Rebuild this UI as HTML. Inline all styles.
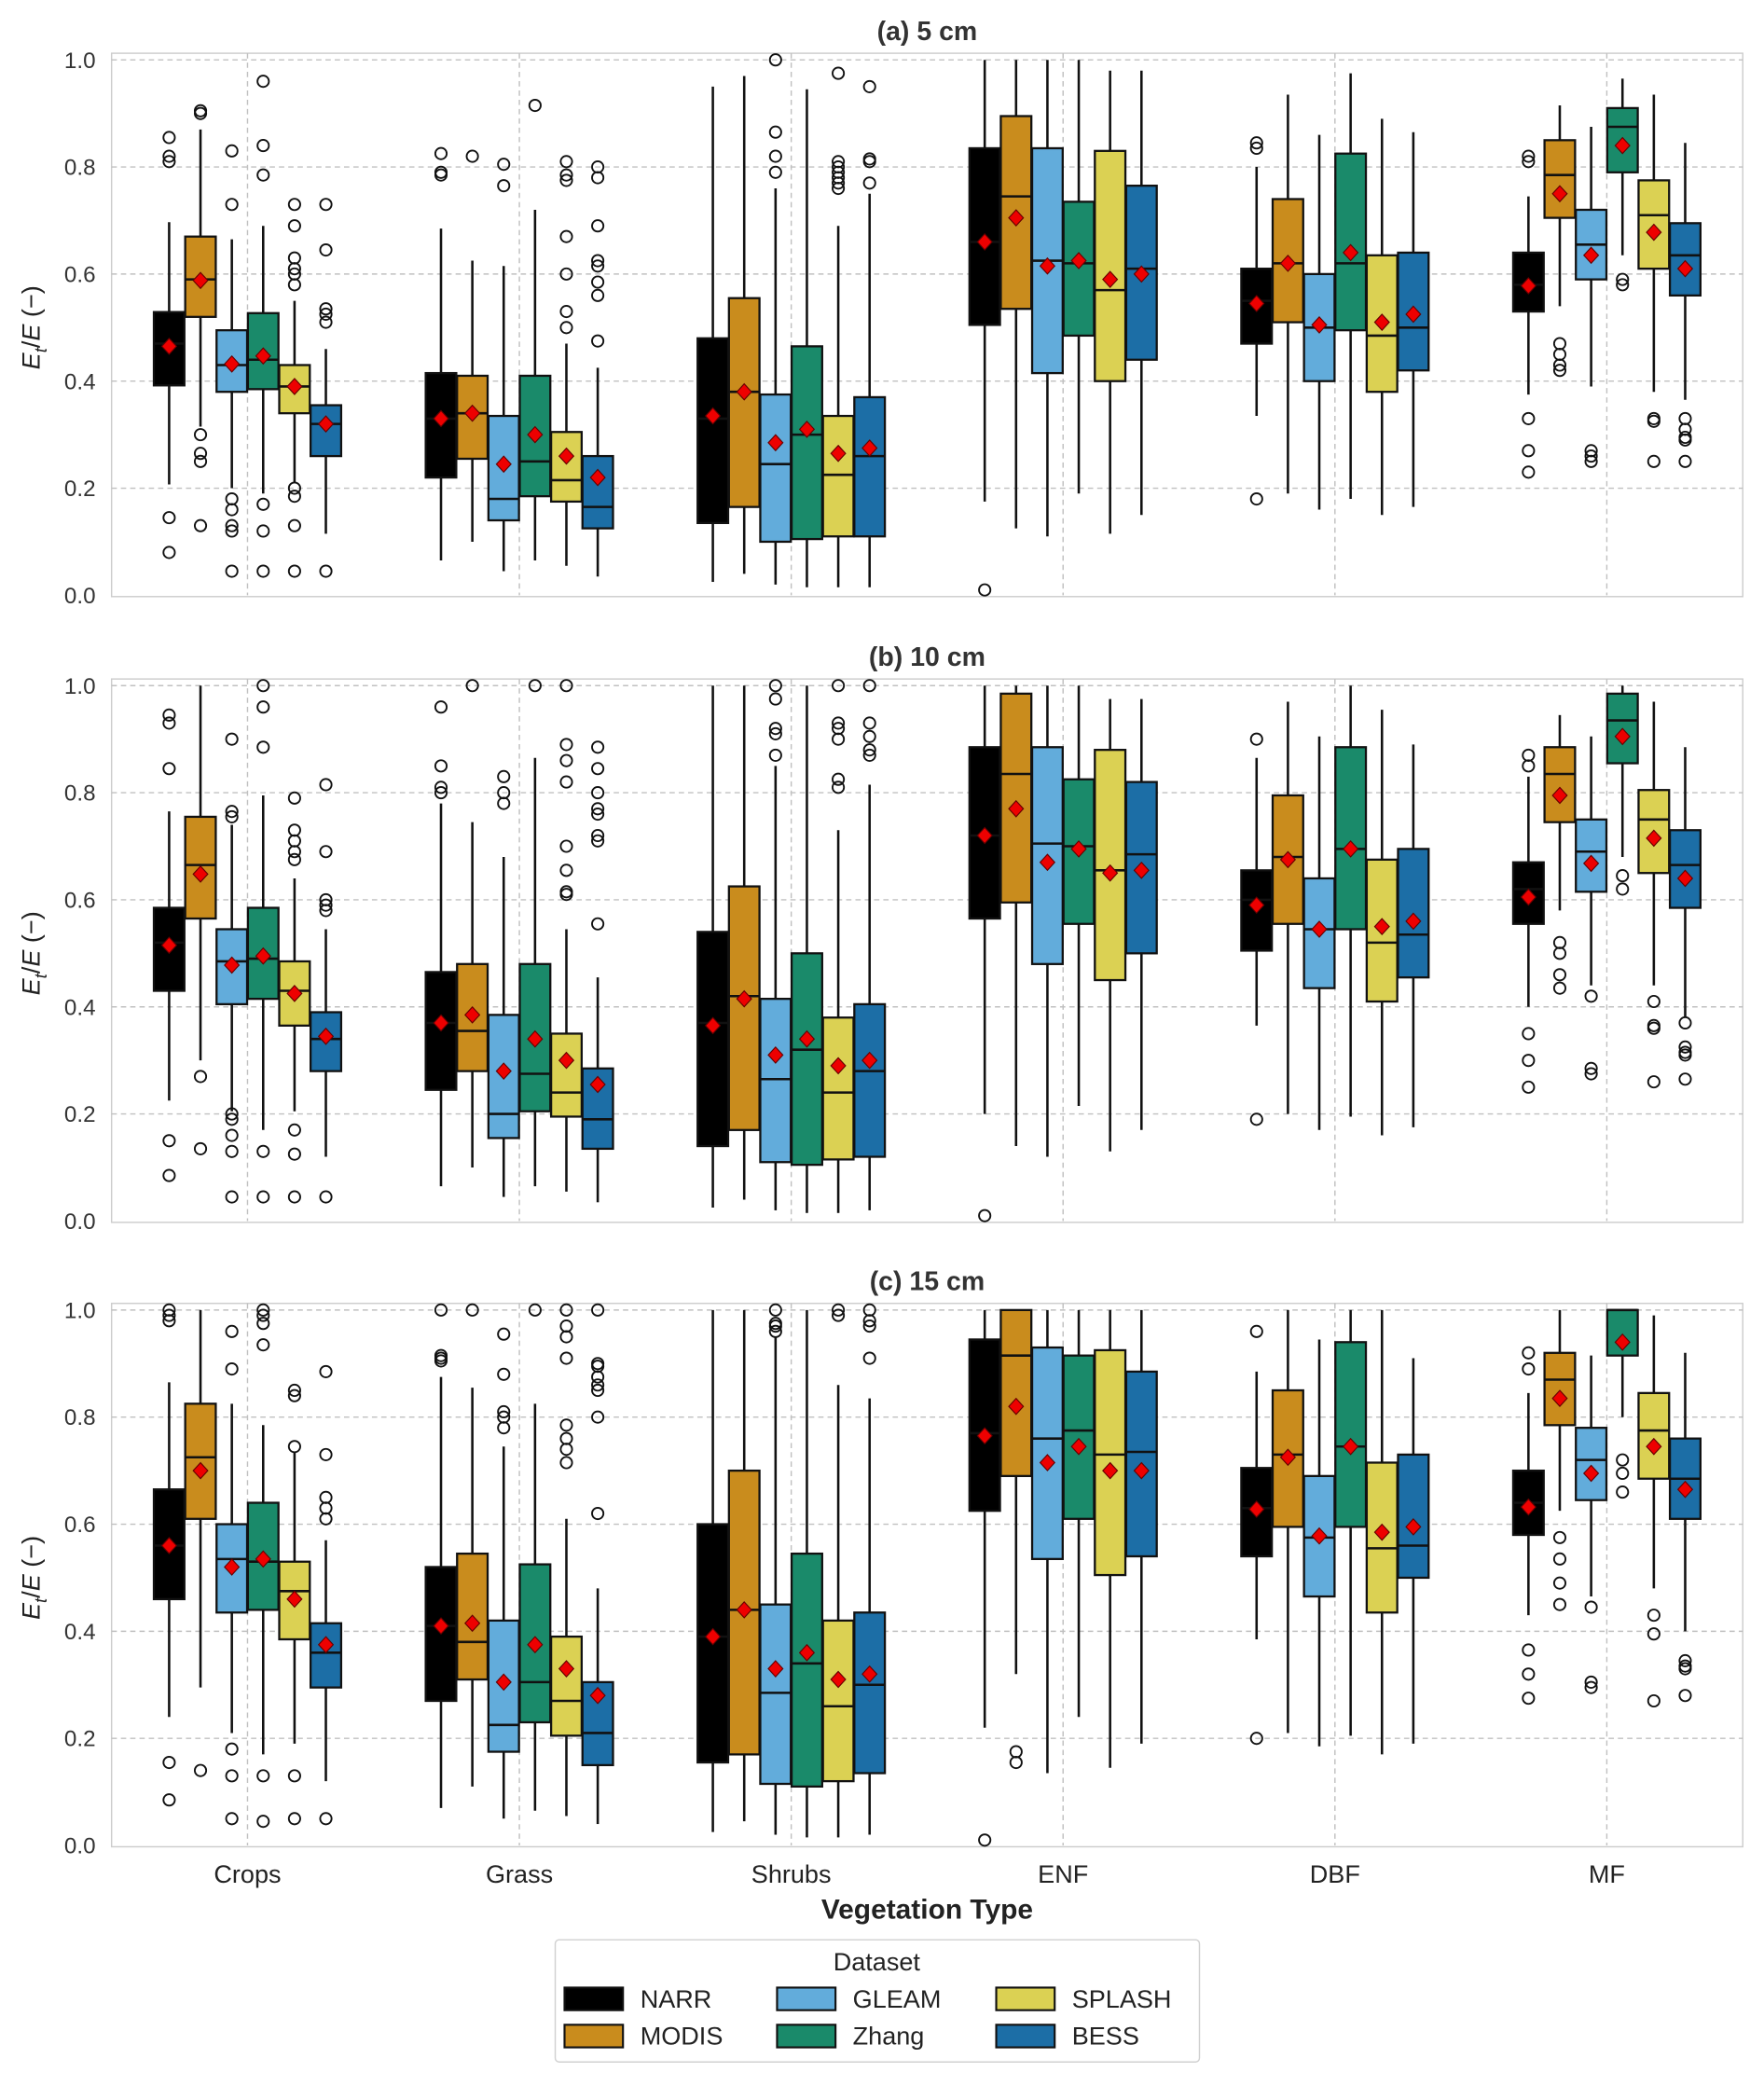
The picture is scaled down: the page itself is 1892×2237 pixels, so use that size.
<!DOCTYPE html>
<html><head><meta charset="utf-8"><style>
html,body{margin:0;padding:0;background:#fff;}
svg{display:block;font-family:"Liberation Sans",Arial,sans-serif;}
</style></head><body>
<svg id="chart" width="1892" height="2237" viewBox="0 0 1328 1570" xmlns="http://www.w3.org/2000/svg"></svg>
<script>
const categories = ["Crops","Grass","Shrubs","ENF","DBF","MF"];
const datasets = ["NARR","MODIS","GLEAM","Zhang","SPLASH","BESS"];
const panelTitles = ["(a) 5 cm","(b) 10 cm","(c) 15 cm"];
const yTicks = [0.0,0.2,0.4,0.6,0.8,1.0];
const yTickLabels = ["0.0","0.2","0.4","0.6","0.8","1.0"];
// each entry: [whiskerLow, q1, median, q3, whiskerHigh, mean, outliers]
const panelA = [
 [[.207,.392,.47,.529,.697,.465,[.855,.82,.81,.145,.08]],[.315,.52,.59,.67,.87,.588,[.905,.9,.3,.265,.25,.13]],[.2,.38,.43,.495,.665,.432,[.83,.73,.18,.16,.13,.12,.045]],[.19,.385,.44,.527,.69,.447,[.96,.84,.785,.17,.12,.045]],[.21,.34,.39,.43,.55,.39,[.73,.69,.63,.61,.6,.58,.2,.185,.13,.045]],[.115,.26,.32,.355,.46,.32,[.73,.645,.535,.525,.51,.045]]],
 [[.065,.22,.33,.415,.685,.33,[.825,.79,.785]],[.1,.255,.34,.41,.625,.34,[.82]],[.045,.14,.18,.335,.615,.245,[.805,.765]],[.065,.185,.25,.41,.72,.3,[.915]],[.055,.175,.215,.305,.47,.26,[.81,.785,.775,.67,.6,.53,.5]],[.035,.125,.165,.26,.425,.22,[.8,.78,.69,.625,.615,.585,.56,.475]]],
 [[.025,.135,.33,.48,.95,.335,[]],[.04,.165,.38,.555,.97,.38,[]],[.02,.1,.245,.375,.76,.285,[1.0,.865,.82,.79]],[.015,.105,.3,.465,.945,.31,[]],[.015,.11,.225,.335,.69,.265,[.975,.81,.8,.79,.78,.77,.76]],[.015,.11,.26,.37,.75,.275,[.95,.815,.81,.77]]],
 [[.175,.505,.66,.835,1.0,.66,[.01]],[.125,.535,.745,.895,1.0,.705,[]],[.11,.415,.625,.835,1.0,.615,[]],[.19,.485,.62,.735,1.0,.625,[]],[.115,.4,.57,.83,.98,.59,[]],[.15,.44,.61,.765,.98,.6,[]]],
 [[.335,.47,.55,.61,.8,.545,[.845,.835,.18]],[.19,.51,.62,.74,.935,.62,[]],[.16,.4,.5,.6,.86,.505,[]],[.18,.495,.62,.825,.975,.64,[]],[.15,.38,.485,.635,.89,.51,[]],[.165,.42,.5,.64,.865,.525,[]]],
 [[.375,.53,.58,.64,.745,.578,[.82,.81,.33,.27,.23]],[.54,.705,.785,.85,.915,.75,[.47,.45,.43,.42]],[.39,.59,.655,.72,.875,.635,[.27,.26,.25]],[.635,.79,.875,.91,.965,.84,[.59,.58]],[.38,.61,.71,.775,.935,.678,[.33,.325,.25]],[.365,.56,.635,.695,.845,.61,[.33,.31,.295,.29,.25]]]
];
const panelB = [
 [[.225,.43,.52,.585,.765,.515,[.945,.93,.845,.15,.085]],[.3,.565,.665,.755,1.0,.648,[.27,.135]],[.205,.405,.485,.545,.74,.478,[.9,.765,.755,.2,.19,.16,.13,.045]],[.17,.415,.49,.585,.795,.495,[1.0,.96,.885,.13,.045]],[.205,.365,.43,.485,.64,.425,[.79,.73,.71,.69,.675,.17,.125,.045]],[.12,.28,.34,.39,.545,.345,[.815,.69,.6,.59,.58,.045]]],
 [[.065,.245,.37,.465,.78,.37,[.96,.85,.81,.8]],[.1,.28,.355,.48,.745,.385,[1.0]],[.045,.155,.2,.385,.68,.28,[.83,.8,.78]],[.065,.205,.275,.48,.865,.34,[1.0]],[.055,.195,.24,.35,.545,.3,[1.0,.89,.86,.82,.7,.655,.615,.61]],[.035,.135,.19,.285,.455,.255,[.885,.845,.8,.77,.76,.72,.71,.555]]],
 [[.025,.14,.37,.54,1.0,.365,[]],[.04,.17,.42,.625,1.0,.415,[]],[.02,.11,.265,.415,.85,.31,[1.0,.975,.92,.91,.87]],[.015,.105,.32,.5,1.0,.34,[]],[.015,.115,.24,.38,.73,.29,[1.0,.93,.92,.9,.825,.81]],[.02,.12,.28,.405,.815,.3,[1.0,.93,.905,.88,.87]]],
 [[.2,.565,.72,.885,1.0,.72,[.01]],[.14,.595,.835,.985,1.0,.77,[]],[.12,.48,.705,.885,1.0,.67,[]],[.215,.555,.7,.825,1.0,.695,[]],[.13,.45,.655,.88,.975,.65,[]],[.17,.5,.685,.82,.975,.655,[]]],
 [[.365,.505,.6,.655,.865,.59,[.9,.19]],[.2,.555,.68,.795,.97,.675,[]],[.17,.435,.545,.64,.905,.545,[]],[.195,.545,.695,.885,1.0,.695,[]],[.16,.41,.52,.675,.955,.55,[]],[.175,.455,.535,.695,.89,.56,[]]],
 [[.4,.555,.62,.67,.83,.605,[.87,.85,.35,.3,.25]],[.58,.745,.835,.885,.945,.795,[.52,.5,.46,.435]],[.44,.615,.69,.75,.905,.668,[.42,.285,.275]],[.68,.855,.935,.985,1.0,.905,[.645,.62]],[.44,.65,.75,.805,.97,.715,[.41,.365,.36,.26]],[.38,.585,.665,.73,.885,.64,[.37,.325,.315,.31,.265]]]
];
const panelC = [
 [[.24,.46,.56,.665,.865,.56,[1.0,.99,.98,.155,.085]],[.295,.61,.725,.825,1.0,.7,[.14]],[.21,.435,.535,.6,.825,.52,[.96,.89,.18,.13,.05]],[.17,.44,.53,.64,.785,.535,[1.0,.99,.975,.935,.13,.045]],[.19,.385,.475,.53,.735,.46,[.85,.84,.745,.13,.05]],[.12,.295,.36,.415,.57,.375,[.885,.73,.65,.63,.61,.05]]],
 [[.07,.27,.41,.52,.875,.41,[1.0,.915,.91,.905]],[.11,.31,.38,.545,.855,.415,[1.0]],[.05,.175,.225,.42,.745,.305,[.955,.88,.81,.8,.78]],[.065,.23,.305,.525,.825,.375,[1.0]],[.055,.205,.27,.39,.61,.33,[1.0,.97,.95,.91,.785,.76,.74,.715]],[.04,.15,.21,.305,.48,.28,[1.0,.9,.895,.875,.86,.85,.8,.62]]],
 [[.025,.155,.39,.6,1.0,.39,[]],[.045,.17,.44,.7,1.0,.44,[]],[.02,.115,.285,.45,.95,.33,[1.0,.975,.97,.96]],[.015,.11,.34,.545,1.0,.36,[]],[.015,.12,.26,.42,.86,.31,[1.0,.99]],[.02,.135,.3,.435,.835,.32,[1.0,.98,.97,.91]]],
 [[.22,.625,.77,.945,1.0,.765,[.01]],[.32,.69,.915,1.0,1.0,.82,[.175,.155]],[.135,.535,.76,.93,1.0,.715,[]],[.24,.61,.775,.915,1.0,.745,[]],[.145,.505,.73,.925,1.0,.7,[]],[.19,.54,.735,.885,1.0,.7,[]]],
 [[.385,.54,.63,.705,.885,.628,[.96,.2]],[.21,.595,.73,.85,1.0,.725,[]],[.185,.465,.575,.69,.945,.578,[]],[.205,.595,.745,.94,1.0,.745,[]],[.17,.435,.555,.715,1.0,.585,[]],[.19,.5,.56,.73,.91,.595,[]]],
 [[.43,.58,.64,.7,.845,.632,[.92,.89,.365,.32,.275]],[.625,.785,.87,.92,1.0,.835,[.575,.535,.49,.45]],[.465,.645,.72,.78,.915,.695,[.445,.305,.295]],[.8,.915,1.0,1.0,1.0,.94,[.72,.695,.66]],[.48,.685,.775,.845,.99,.745,[.43,.395,.27]],[.4,.61,.685,.76,.92,.665,[.345,.335,.33,.28]]]
];
const panels = [panelA, panelB, panelC];
const colors = ["#000000","#c98c1d","#62acdb","#1a8a6a","#dbd153","#1c6ea6"];

const NS="http://www.w3.org/2000/svg";
const svg=document.getElementById('chart');
function mk(tag,attrs,parent,text){const e=document.createElementNS(NS,tag);for(const k in attrs)e.setAttribute(k,attrs[k]);if(text!==undefined)e.textContent=text;(parent||svg).appendChild(e);return e;}
const X0=84,X1=1312;
const zeroY=[448,919,1389];
const H=403;
const groupStep=(X1-X0)/6;
function xCat(i){return X0+groupStep*(i+0.5);}
function xBox(i,j){return xCat(i)+(j-2.5)*23.6;}
const BW=23;

panels.forEach((pdata,p)=>{
  const y0=zeroY[p];
  const yS=v=>y0-v*H;
  const g=mk('g',{},svg);
  
  
  const top=yS(1.0)-5;
  mk('rect',{x:X0,y:top,width:X1-X0,height:y0-top+1,fill:'#fff',stroke:'#cccccc','stroke-width':1},g);
  yTicks.forEach((t,k)=>{
    if(t>0&&t<1.01) mk('line',{x1:X0,x2:X1,y1:yS(t),y2:yS(t),stroke:'#c0c0c0','stroke-dasharray':'4,3','stroke-width':1},g);
    const tl=mk('text',{x:72,y:yS(t)+6,'text-anchor':'end','font-size':17,fill:'#333'},g,yTickLabels[k]);
    
    
  });
  categories.forEach((c,i)=>{mk('line',{x1:xCat(i),x2:xCat(i),y1:top,y2:y0,stroke:'#c0c0c0','stroke-dasharray':'4,3','stroke-width':1},g);});
  const tt=mk('text',{x:(X0+X1)/2,y:top-10,'text-anchor':'middle','font-size':20,'font-weight':'bold',fill:'#333'},g,panelTitles[p]);
  
  
  const yl=mk('text',{transform:`translate(30,${y0-H/2}) rotate(-90)`,'text-anchor':'middle','font-size':19,fill:'#222'},g);
  
  
  mk('tspan',{'font-style':'italic'},yl,'E');
  mk('tspan',{'font-style':'italic','font-size':13,dy:5},yl,'t');
  mk('tspan',{dy:-5},yl,'/');
  mk('tspan',{'font-style':'italic'},yl,'E');
  mk('tspan',{},yl,' (\u2212)');
  pdata.forEach((grp,i)=>{
    grp.forEach((b,j)=>{
      const [wl,q1,md,q3,wh,mn,outs]=b;
      const cx=xBox(i,j);
      const bg=mk('g',{},g);
      
      
      mk('line',{x1:cx,x2:cx,y1:yS(wh),y2:yS(q3),stroke:'#111','stroke-width':1.8},bg);
      mk('line',{x1:cx,x2:cx,y1:yS(q1),y2:yS(wl),stroke:'#111','stroke-width':1.8},bg);
      mk('rect',{x:cx-BW/2,y:yS(q3),width:BW,height:Math.max(0.5,yS(q1)-yS(q3)),fill:colors[j],stroke:'#111','stroke-width':1.6},bg);
      mk('line',{x1:cx-BW/2,x2:cx+BW/2,y1:yS(md),y2:yS(md),stroke:'#111','stroke-width':1.8},bg);
      outs.forEach(o=>{mk('circle',{cx:cx,cy:yS(o),r:4.3,fill:'none',stroke:'#111','stroke-width':1.3},bg);});
      const my=yS(mn);
      mk('polygon',{points:`${cx},${my-6} ${cx+5.5},${my} ${cx},${my+6} ${cx-5.5},${my}`,fill:'#ee0000',stroke:'#600','stroke-width':0.8},bg);
    });
  });
});
categories.forEach((c,i)=>{
  const t=mk('text',{x:xCat(i),y:1417,'text-anchor':'middle','font-size':19,fill:'#222'},svg,c);
  
  
});
const xt=mk('text',{x:(X0+X1)/2,y:1444,'text-anchor':'middle','font-size':21,'font-weight':'bold',fill:'#222'},svg,'Vegetation Type');


const lg=mk('g',{},svg);


mk('rect',{x:418,y:1460,width:485,height:92,fill:'#fff',stroke:'#d0d0d0','stroke-width':1,rx:3},lg);
mk('text',{x:660,y:1483,'text-anchor':'middle','font-size':19,fill:'#222'},lg,'Dataset');
const lcolX=[425,585,750];
datasets.forEach((d,k)=>{
  const col=Math.floor(k/2),row=k%2;
  const x=lcolX[col],y=1496+row*28;
  const e=mk('g',{},lg);
  
  
  mk('rect',{x:x,y:y,width:44,height:17,fill:colors[k],stroke:'#111','stroke-width':1.5},e);
  mk('text',{x:x+57,y:y+15,'font-size':19,fill:'#222'},e,d);
});
</script>
</body></html>
